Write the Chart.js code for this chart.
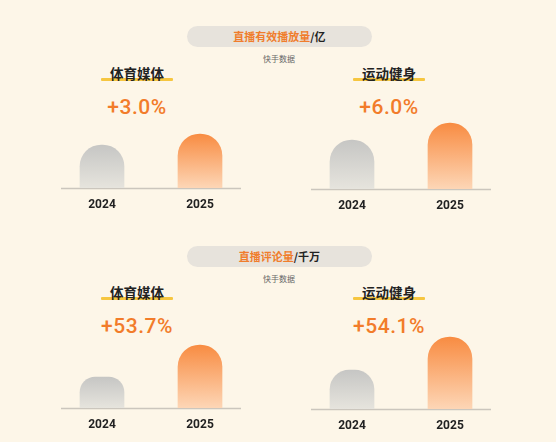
<!DOCTYPE html>
<html>
<head>
<meta charset="utf-8">
<script src="https://cdn.jsdelivr.net/npm/chart.js@4"></script>
<style>
  body { margin: 0; background: #fdf6e8; width: 556px; height: 442px; overflow: hidden; position: relative;
         font-family: "Noto Sans CJK SC", sans-serif; }
  .pill { position: absolute; left: 187px; width: 185px; height: 21px; border-radius: 11px; background: #e7e3dc;
          text-align: center; line-height: 21px; font-size: 11px; font-weight: 700; color: #222; }
  .pill span { color: #f07d2c; }
  .src { position: absolute; left: 229px; width: 100px; text-align: center; font-size: 8px; line-height: 12px; color: #666; }
  .ttl { position: absolute; width: 120px; text-align: center; font-size: 13.5px; line-height: 20px; font-weight: 700; color: #222; }
  .uline { position: absolute; height: 3px; width: 72px; background: #f6c640; border-radius: 1px; }
  .pct { position: absolute; width: 140px; text-align: center; font-family: Roboto, sans-serif; font-size: 21px;
         font-weight: 500; line-height: 26px; letter-spacing: 0.5px; color: #f27c2a; }
  canvas { position: absolute; }
</style>
</head>
<body>
<script>
// data
const years = ['2024', '2025'];
const metrics = ['直播有效播放量', '直播评论量'];
const units = ['亿', '千万'];
const groups = ['体育媒体', '运动健身'];
const source = '快手数据';
const growth = [['+3.0%', '+6.0%'], ['+53.7%', '+54.1%']];
// bar heights as drawn (relative units, no axis in picture)
const playSports = [43, 54];
const playFitness = [49, 66];
const commentSports = [31, 63];
const commentFitness = [39, 72];
const series = [[playSports, playFitness], [commentSports, commentFitness]];

// layout of the two blocks
const pillTop = [26, 246];
const srcTop = [53, 273];
const baseY = [[188, 189], [407.5, 408.5]];
const textTop = [63, 282];
const pctTop = [94, 313];
const panelLeft = [53, 303];
const textCenter = [137, 389];

function el(tag, cls, css, html) {
  const e = document.createElement(tag);
  e.className = cls;
  Object.assign(e.style, css);
  if (html != null) e.innerHTML = html;
  document.body.appendChild(e);
  return e;
}

const baseLine = {
  id: 'baseLine',
  beforeDatasetsDraw(c) {
    const { ctx, chartArea: a } = c;
    const y = c.scales.y.getPixelForValue(0);
    ctx.save();
    ctx.strokeStyle = '#cbc6bd';
    ctx.lineWidth = 1.5;
    ctx.beginPath();
    ctx.moveTo(a.left + 8, y + 0.5);
    ctx.lineTo(a.right - 8, y + 0.5);
    ctx.stroke();
    ctx.restore();
  }
};

function barFill(ctx) {
  const c = ctx.chart;
  if (!c.chartArea || ctx.raw == null) return '#ccc';
  const ys = c.scales.y;
  const top = ys.getPixelForValue(ctx.raw);
  const bot = ys.getPixelForValue(0);
  const g = c.ctx.createLinearGradient(0, top, 0, bot);
  if (ctx.dataIndex === 0) {
    g.addColorStop(0, '#c6c6c4');
    g.addColorStop(1, '#e6e4dd');
  } else {
    g.addColorStop(0, '#f88c42');
    g.addColorStop(1, '#fdd6b6');
  }
  return g;
}

metrics.forEach((m, r) => {
  el('div', 'pill', { top: pillTop[r] + 'px' }, '<span>' + m + '</span>/' + units[r]);
  el('div', 'src', { top: srcTop[r] + 'px' }, source);

  groups.forEach((g, k) => {
    const cx = textCenter[k];
    el('div', 'uline', { left: (cx - 36) + 'px', top: (textTop[r] + 15) + 'px' });
    el('div', 'ttl', { left: (cx - 60) + 'px', top: textTop[r] + 'px' }, g);
    el('div', 'pct', { left: (cx - 70) + 'px', top: pctTop[r] + 'px' }, growth[r][k]);

    const cv = document.createElement('canvas');
    cv.width = 196;
    cv.height = 125;
    cv.style.left = panelLeft[k] + 'px';
    cv.style.top = (baseY[r][k] - 100) + 'px';
    document.body.appendChild(cv);

    new Chart(cv, {
      type: 'bar',
      data: {
        labels: years,
        datasets: [{
          data: series[r][k],
          backgroundColor: barFill,
          barThickness: 44,
          borderRadius: 22,
          borderSkipped: 'start'
        }]
      },
      options: {
        responsive: false,
        animation: false,
        layout: { padding: 0 },
        plugins: { legend: { display: false }, tooltip: { enabled: false } },
        scales: {
          x: {
            grid: { display: false, drawTicks: false },
            border: { display: false },
            ticks: { padding: 10, color: '#222', font: { family: 'Roboto', size: 12, weight: 'bold' } },
            afterFit: s => { s.height = 25; }
          },
          y: { display: false, min: 0, max: 100 }
        }
      },
      plugins: [baseLine]
    });
  });
});
</script>
</body>
</html>
